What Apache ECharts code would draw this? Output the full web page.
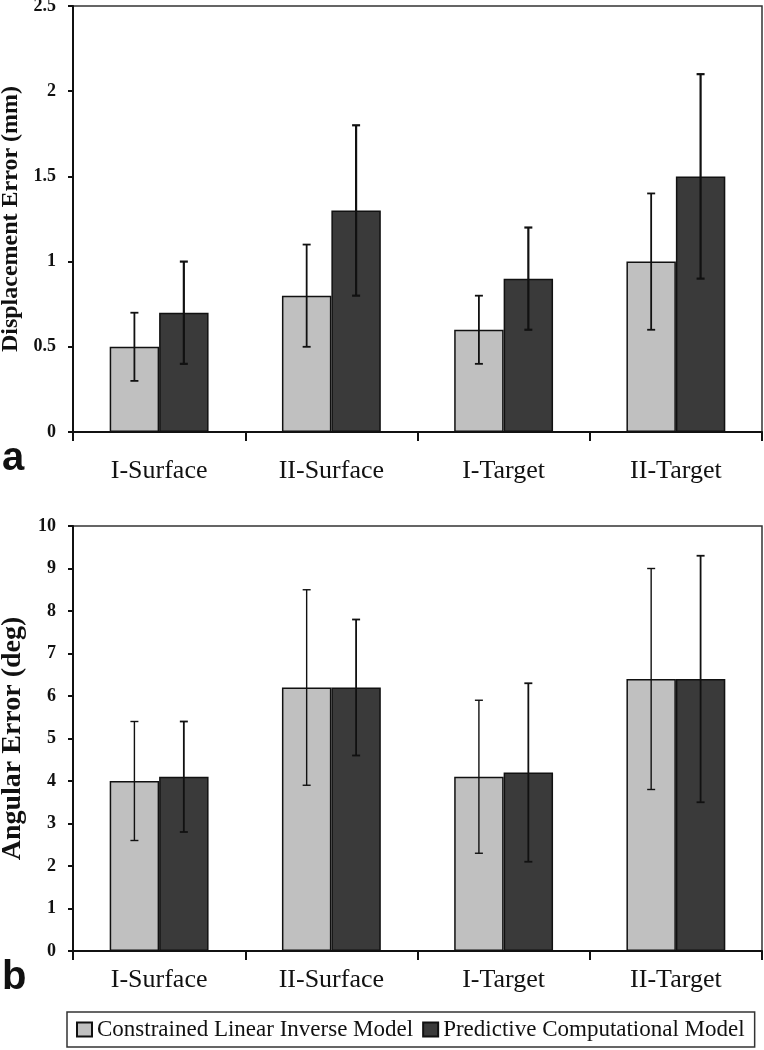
<!DOCTYPE html>
<html>
<head>
<meta charset="utf-8">
<script src="https://cdn.jsdelivr.net/npm/echarts@6/dist/echarts.min.js"></script>
<style>
  html, body { margin: 0; padding: 0; background: #fff; }
  #chart { width: 764px; height: 1050px; }
</style>
</head>
<body>
<div id="chart"></div>
<script>
const categories = ['I-Surface', 'II-Surface', 'I-Target', 'II-Target'];
const seriesNames = ['Constrained Linear Inverse Model', 'Predictive Computational Model'];

// Panel a: displacement error (mm)
const dispLinear = [0.5, 0.8, 0.6, 1.0];
const dispLinearLow = [0.3, 0.5, 0.4, 0.6];
const dispLinearHigh = [0.7, 1.1, 0.8, 1.4];
const dispPredictive = [0.7, 1.3, 0.9, 1.5];
const dispPredictiveLow = [0.4, 0.8, 0.6, 0.9];
const dispPredictiveHigh = [1.0, 1.8, 1.2, 2.1];

// Panel b: angular error (deg)
const angLinear = [4.0, 6.2, 4.1, 6.4];
const angLinearLow = [2.6, 3.9, 2.3, 3.8];
const angLinearHigh = [5.4, 8.5, 5.9, 9.0];
const angPredictive = [4.1, 6.2, 4.2, 6.4];
const angPredictiveLow = [2.8, 4.6, 2.1, 3.5];
const angPredictiveHigh = [5.4, 7.8, 6.3, 9.3];

const SERIF = '"Liberation Serif", "Times New Roman", serif';
const BAR_FRAC = 0.287;
const lightColor = '#c0c0c0';
const darkColor = '#3a3a3a';

function errRows(low, high) {
  return categories.map((c, i) => [i, low[i], high[i]]);
}

function errorSeries(name, xi, yi, low, high, side, lw) {
  return {
    type: 'custom',
    name: name,
    xAxisIndex: xi,
    yAxisIndex: yi,
    z: 5,
    silent: true,
    data: errRows(low, high),
    encode: { x: 0, y: [1, 2] },
    renderItem: function (params, api) {
      const cat = api.value(0);
      const lo = api.coord([cat, api.value(1)]);
      const hi = api.coord([cat, api.value(2)]);
      const bw = api.size([1, 0])[0] * BAR_FRAC;
      const x = lo[0] + side * bw / 2;
      const cap = 4;
      const style = { stroke: '#111', lineWidth: lw };
      return {
        type: 'group',
        children: [
          { type: 'line', shape: { x1: x, y1: lo[1], x2: x, y2: hi[1] }, style: style },
          { type: 'line', shape: { x1: x - cap, y1: lo[1], x2: x + cap, y2: lo[1] }, style: style },
          { type: 'line', shape: { x1: x - cap, y1: hi[1], x2: x + cap, y2: hi[1] }, style: style }
        ]
      };
    }
  };
}

function barSeries(name, xi, yi, values, color) {
  return {
    type: 'bar',
    name: name,
    xAxisIndex: xi,
    yAxisIndex: yi,
    data: values,
    barWidth: (BAR_FRAC * 100) + '%',
    barGap: '0%',
    itemStyle: { color: color, borderColor: '#111', borderWidth: 1.5 },
    emphasis: { disabled: true }
  };
}

function xAxisCfg(gi, margin) {
  return {
    type: 'category',
    gridIndex: gi,
    data: categories,
    axisLine: { lineStyle: { color: '#111', width: 2 } },
    axisTick: { show: true, length: 9, lineStyle: { color: '#111', width: 2 } },
    axisLabel: { color: '#111', fontFamily: SERIF, fontSize: 26, margin: margin },
    splitLine: { show: false }
  };
}

function yAxisCfg(gi, max, interval, name, nameSize, nameGap) {
  return {
    type: 'value',
    gridIndex: gi,
    min: 0,
    max: max,
    interval: interval,
    name: name,
    nameLocation: 'middle',
    nameGap: nameGap,
    nameTextStyle: { color: '#111', fontFamily: SERIF, fontSize: nameSize, fontWeight: 'bold' },
    axisLine: { show: true, lineStyle: { color: '#111', width: 2 } },
    axisTick: { show: true, length: 5, lineStyle: { color: '#111', width: 2 } },
    axisLabel: { color: '#111', fontFamily: SERIF, fontSize: 18, fontWeight: 'bold', margin: 17 },
    splitLine: { show: false }
  };
}

const chart = echarts.init(document.getElementById('chart'), null, { renderer: 'canvas' });
chart.setOption({
  backgroundColor: '#fff',
  animation: false,
  grid: [
    { left: 73, top: 6, width: 689, height: 426, containLabel: false, outerBoundsMode: 'none', show: true, borderColor: '#333', borderWidth: 1.5, backgroundColor: 'transparent' },
    { left: 73, top: 526, width: 689, height: 425, containLabel: false, outerBoundsMode: 'none', show: true, borderColor: '#333', borderWidth: 1.5, backgroundColor: 'transparent' }
  ],
  xAxis: [xAxisCfg(0, 26), xAxisCfg(1, 16)],
  yAxis: [
    yAxisCfg(0, 2.5, 0.5, 'Displacement Error (mm)', 24, 49),
    yAxisCfg(1, 10, 1, 'Angular Error (deg)', 28, 46)
  ],
  legend: {
    data: seriesNames,
    left: 67,
    top: 1012,
    orient: 'horizontal',
    padding: [6, 10, 6, 9],
    itemGap: 9,
    itemWidth: 15,
    itemHeight: 14,
    icon: 'rect',
    borderColor: '#333',
    borderWidth: 1.5,
    selectedMode: false,
    textStyle: { color: '#111', fontFamily: SERIF, fontSize: 23 }
  },
  graphic: [
    { type: 'text', left: 2, top: 439, style: { text: 'a', font: 'bold 40px "Liberation Sans", Arial, sans-serif', fill: '#111' } },
    { type: 'text', left: 2, top: 958, style: { text: 'b', font: 'bold 40px "Liberation Sans", Arial, sans-serif', fill: '#111' } }
  ],
  series: [
    barSeries(seriesNames[0], 0, 0, dispLinear, lightColor),
    barSeries(seriesNames[1], 0, 0, dispPredictive, darkColor),
    errorSeries('errA1', 0, 0, dispLinearLow, dispLinearHigh, -1, 1.8),
    errorSeries('errA2', 0, 0, dispPredictiveLow, dispPredictiveHigh, 1, 2.2),
    barSeries(seriesNames[0], 1, 1, angLinear, lightColor),
    barSeries(seriesNames[1], 1, 1, angPredictive, darkColor),
    errorSeries('errB1', 1, 1, angLinearLow, angLinearHigh, -1, 1.4),
    errorSeries('errB2', 1, 1, angPredictiveLow, angPredictiveHigh, 1, 1.8)
  ]
});
</script>
</body>
</html>
